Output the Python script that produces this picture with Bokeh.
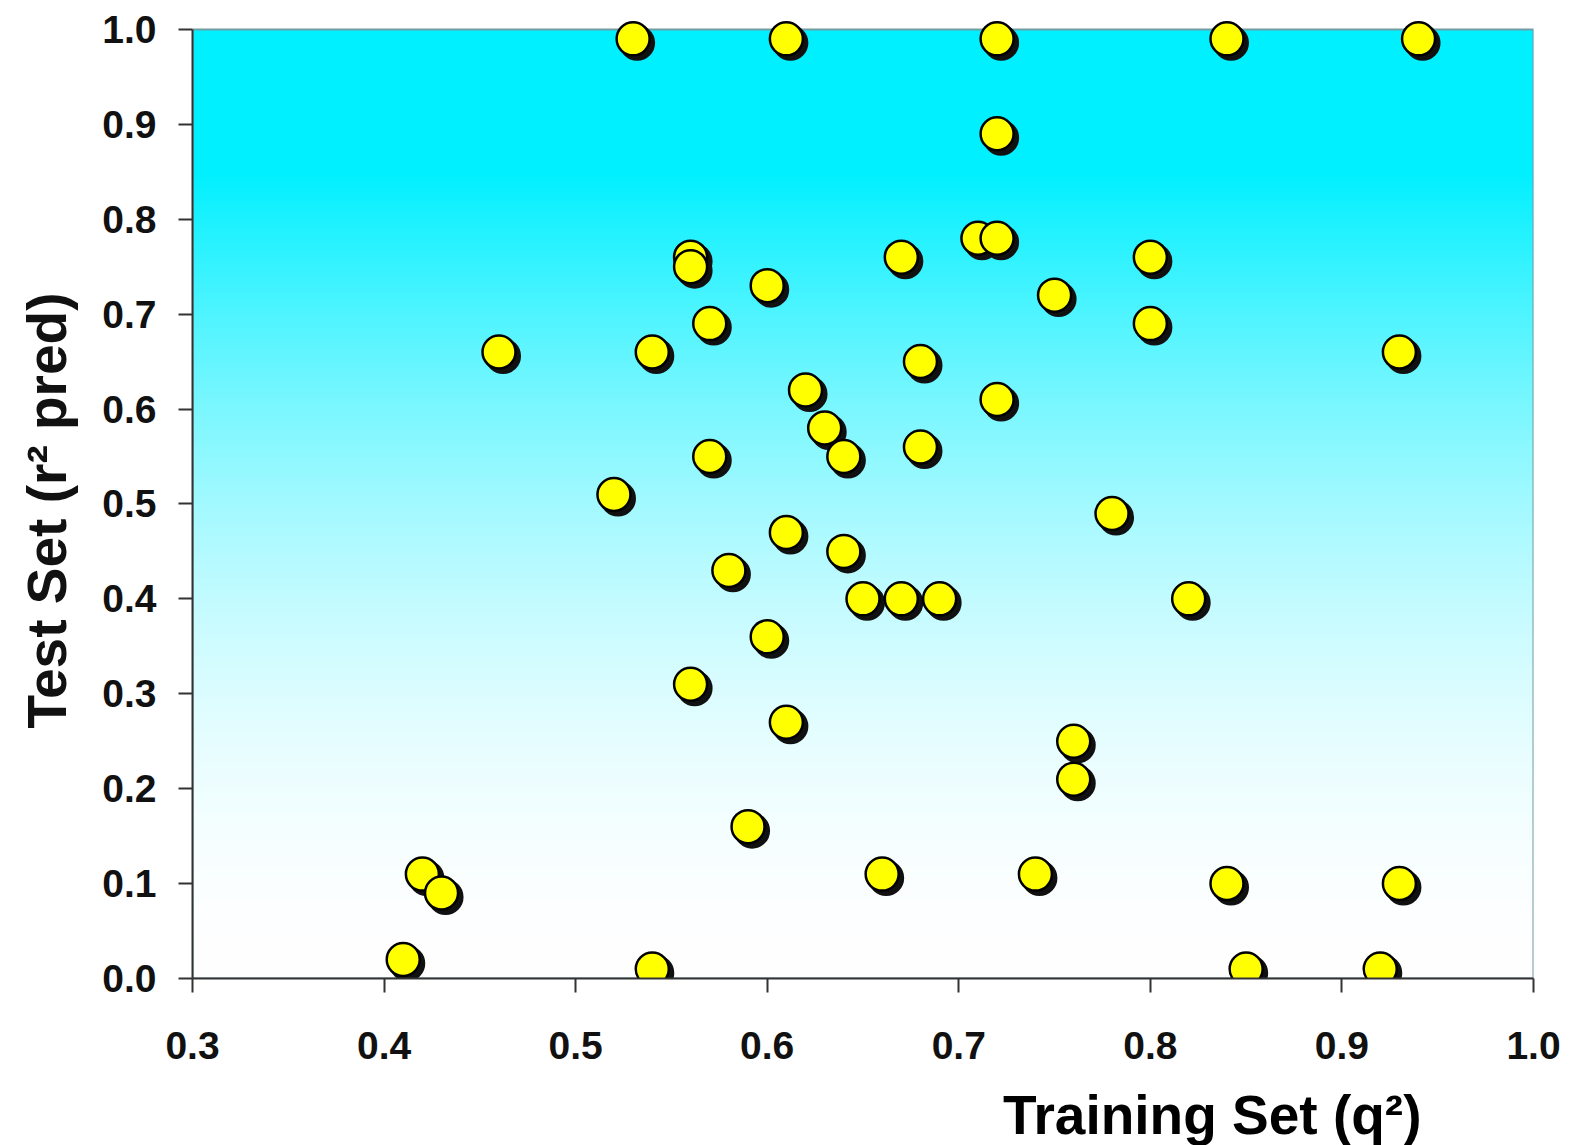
import numpy as np
from bokeh.plotting import figure
from bokeh.models import (ColumnDataSource, FixedTicker, PrintfTickFormatter, Range1d,
                          Title, LinearAxis)
from bokeh.transform import dodge
from bokeh.embed import file_html
from bokeh.resources import INLINE

# ---- data ----
train_q2 = [0.53, 0.61, 0.72, 0.84, 0.94,
            0.72,
            0.71, 0.72,
            0.67, 0.80,
            0.56, 0.56,
            0.60, 0.75, 0.57, 0.80,
            0.46, 0.54, 0.68, 0.93,
            0.62, 0.72, 0.63, 0.68, 0.64, 0.57,
            0.52, 0.78, 0.61, 0.64, 0.58,
            0.65, 0.67, 0.69, 0.82,
            0.60, 0.56, 0.61, 0.76, 0.76, 0.59,
            0.42, 0.43, 0.66, 0.74, 0.84, 0.93,
            0.41, 0.54, 0.85, 0.92]
test_r2 = [0.99, 0.99, 0.99, 0.99, 0.99,
           0.89,
           0.78, 0.78,
           0.76, 0.76,
           0.76, 0.75,
           0.73, 0.72, 0.69, 0.69,
           0.66, 0.66, 0.65, 0.66,
           0.62, 0.61, 0.58, 0.56, 0.55, 0.55,
           0.51, 0.49, 0.47, 0.45, 0.43,
           0.40, 0.40, 0.40, 0.40,
           0.36, 0.31, 0.27, 0.25, 0.21, 0.16,
           0.11, 0.09, 0.11, 0.11, 0.10, 0.10,
           0.02, 0.01, 0.01, 0.01]
x_ticks = [0.3, 0.4, 0.5, 0.6, 0.7, 0.8, 0.9, 1.0]
y_ticks = [0.0, 0.1, 0.2, 0.3, 0.4, 0.5, 0.6, 0.7, 0.8, 0.9, 1.0]
x_title = "Training Set (q²)"
y_title = "Test Set (r² pred)"

src = ColumnDataSource(data=dict(x=train_q2, y=test_r2))

FONT = "Liberation Sans"

p = figure(width=1562, height=1145,
           x_range=Range1d(0.3, 1.0), y_range=Range1d(0.0, 1.022),
           output_backend="svg", toolbar_location=None,
           min_border_left=192, min_border_right=29,
           min_border_top=8, min_border_bottom=167)
p.background_fill_color = "white"
p.border_fill_color = "white"
p.outline_line_color = None
p.grid.visible = False

# gradient background (cyan at top fading to white at bottom)
n = 800
yy = (np.arange(n) + 0.5) / n
w = 1 - np.clip(yy / 0.85, 0, 1) ** 1.9
r = (255 * w).astype(np.uint32)
g = (240 + 15 * w).astype(np.uint32)
b = np.full(n, 255, dtype=np.uint32)
rgba = (255 << 24) | (b << 16) | (g << 8) | r
img = np.repeat(rgba.reshape(n, 1), 2, axis=1).astype(np.uint32)
p.image_rgba(image=[img], x=x_ticks[0], y=y_ticks[0],
             dw=x_ticks[-1] - x_ticks[0], dh=y_ticks[-1] - y_ticks[0])

# top / right border of the plotting area
p.quad(left=[x_ticks[0]], right=[x_ticks[-1]], bottom=[y_ticks[0]], top=[y_ticks[-1]],
       fill_color=None, line_color="#6f9ea4", line_width=2)

# shadows then markers
p.scatter(x=dodge("x", 0.0021, range=p.x_range), y=dodge("y", -0.0042, range=p.y_range),
          source=src, size=34, fill_color="#111111", line_color="#111111", line_width=2)
p.scatter(x="x", y="y", source=src, size=33, fill_color="#FFFF00",
          line_color="#000000", line_width=2.5)

# axes
for ax in (p.xaxis[0], p.yaxis[0]):
    ax.axis_line_color = "#333333"
    ax.axis_line_width = 2
    ax.major_tick_line_color = "#333333"
    ax.major_tick_line_width = 2
    ax.major_tick_out = 14
    ax.major_tick_in = 0
    ax.minor_tick_line_color = None
    ax.major_label_text_font = FONT
    ax.major_label_text_font_style = "bold"
    ax.major_label_text_font_size = "39px"
    ax.major_label_text_color = "#111111"

p.xaxis.ticker = FixedTicker(ticks=x_ticks)
p.yaxis.ticker = FixedTicker(ticks=y_ticks)
p.xaxis.formatter = PrintfTickFormatter(format="%.1f")
p.yaxis.formatter = PrintfTickFormatter(format="%.1f")
p.yaxis.bounds = (0, 1)
p.xaxis.major_label_standoff = 39
p.yaxis.major_label_standoff = 22


def spacer(loc, px):
    # an invisible axis used only to reserve px pixels between an axis and its title
    return LinearAxis(ticker=FixedTicker(ticks=[loc]), axis_line_color=None,
                      major_tick_out=px, major_tick_in=0, minor_tick_out=0, minor_tick_in=0,
                      major_tick_line_color="white", major_tick_line_width=1,
                      minor_tick_line_color=None,
                      major_label_standoff=0, major_label_text_font_size="0px",
                      major_label_overrides={loc: ""})


p.add_layout(spacer(x_ticks[0], 20), "below")
p.add_layout(Title(text=x_title, align="right", offset=112, standoff=0,
                   vertical_align="bottom",
                   text_font=FONT, text_font_style="bold", text_font_size="55px",
                   text_color="#000000"), "below")

p.add_layout(spacer(y_ticks[0], 22), "left")
p.add_layout(Title(text=y_title, align="left", offset=250, standoff=0,
                   vertical_align="bottom",
                   text_font=FONT, text_font_style="bold", text_font_size="55px",
                   text_color="#111111"), "left")

open("out.html", "w").write(file_html(p, INLINE))
